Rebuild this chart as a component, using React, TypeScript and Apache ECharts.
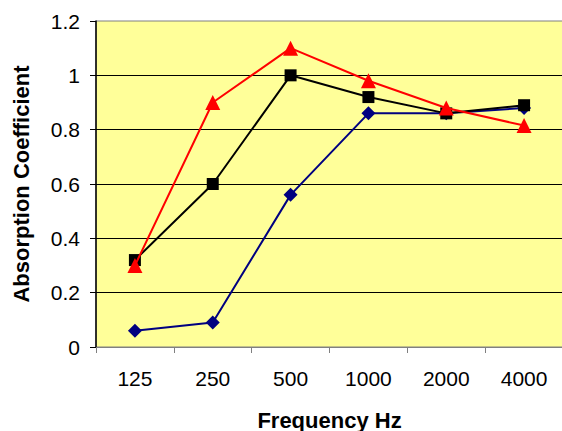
import React, { useEffect, useRef } from "react";
import * as echarts from "echarts";

const categories = ["125", "250", "500", "1000", "2000", "4000"];
const blueDiamond = [0.06, 0.09, 0.56, 0.86, 0.86, 0.88];
const blackSquare = [0.32, 0.6, 1.0, 0.92, 0.86, 0.89];
const redTriangle = [0.3, 0.9, 1.1, 0.98, 0.88, 0.815];
const yTitle = "Absorption Coefficient";
const xTitle = "Frequency Hz";

export default function App() {
  const ref = useRef<HTMLDivElement>(null);
  useEffect(() => {
    if (!ref.current) return;
    const chart = echarts.init(ref.current, undefined, { renderer: "svg" });
    const font = "'Liberation Sans', Arial, sans-serif";
    chart.setOption({
      animation: false,
      grid: {
        left: 96,
        top: 21,
        width: 467,
        height: 326,
        show: true,
        containLabel: false,
        outerBoundsMode: "none",
        backgroundColor: "#FFFF99",
        borderColor: "#808080",
        borderWidth: 1,
      },
      xAxis: {
        type: "category",
        data: categories,
        boundaryGap: true,
        name: xTitle,
        nameLocation: "middle",
        nameGap: 62,
        nameTextStyle: { fontFamily: font, fontSize: 22, fontWeight: "bold", color: "#000" },
        axisLine: { lineStyle: { color: "#808080", width: 1 } },
        axisTick: { show: true, length: 6, inside: false, lineStyle: { color: "#808080" } },
        axisLabel: { fontFamily: font, fontSize: 21, color: "#000", margin: 21 },
        splitLine: { show: false },
      },
      yAxis: {
        type: "value",
        min: 0,
        max: 1.2,
        interval: 0.2,
        name: yTitle,
        nameLocation: "middle",
        nameGap: 64,
        nameTextStyle: { fontFamily: font, fontSize: 22, fontWeight: "bold", color: "#000" },
        axisLine: { show: true, lineStyle: { color: "#000", width: 1.5 } },
        axisTick: { show: true, length: 6, lineStyle: { color: "#000" } },
        axisLabel: {
          fontFamily: font,
          fontSize: 21,
          color: "#000",
          margin: 16,
          formatter: (v: number) => String(Math.round(v * 10) / 10),
        },
        splitLine: { show: true, showMaxLine: false, lineStyle: { color: "#000", width: 1 } },
      },
      series: [
        {
          type: "line",
          data: blueDiamond,
          symbol: "diamond",
          symbolSize: 14,
          lineStyle: { color: "#000080", width: 2 },
          itemStyle: { color: "#000080" },
          z: 3,
        },
        {
          type: "line",
          data: blackSquare,
          symbol: "rect",
          symbolSize: 12,
          lineStyle: { color: "#000000", width: 2 },
          itemStyle: { color: "#000000" },
          z: 4,
        },
        {
          type: "line",
          data: redTriangle,
          symbol: "triangle",
          symbolSize: 15,
          lineStyle: { color: "#FF0000", width: 2 },
          itemStyle: { color: "#FF0000" },
          z: 5,
        },
      ],
    });
    return () => chart.dispose();
  }, []);
  return (
    <div
      ref={ref}
      style={{ position: "absolute", left: 0, top: 0, width: 562, height: 431, background: "#fff" }}
    />
  );
}
